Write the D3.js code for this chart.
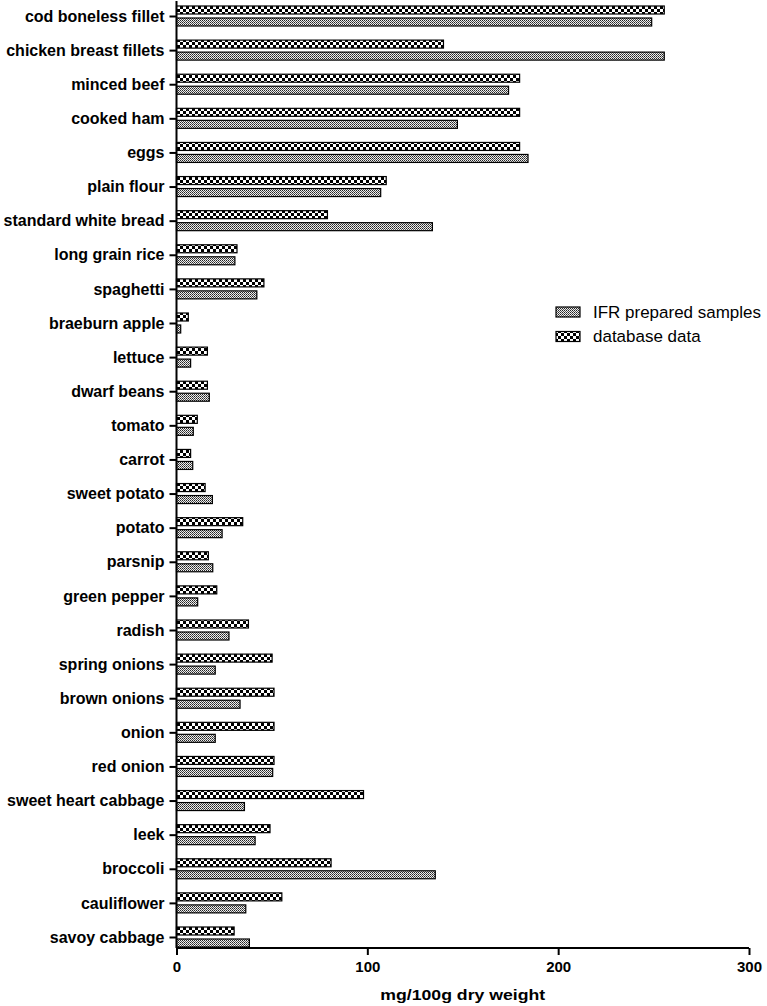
<!DOCTYPE html>
<html><head><meta charset="utf-8">
<script src="https://cdn.jsdelivr.net/npm/d3@7"></script>
<style>body{margin:0;background:#fff}svg{display:block}</style>
</head><body>
<script>
const categories = ["cod boneless fillet","chicken breast fillets","minced beef","cooked ham","eggs","plain flour","standard white bread","long grain rice","spaghetti","braeburn apple","lettuce","dwarf beans","tomato","carrot","sweet potato","potato","parsnip","green pepper","radish","spring onions","brown onions","onion","red onion","sweet heart cabbage","leek","broccoli","cauliflower","savoy cabbage"];
const ifrValues = [249,255.6,174,147.2,184.2,107,134.1,30.6,42.1,2.2,7.4,17.2,8.8,8.5,18.8,23.9,19,11.1,27.5,20.3,33.3,20.3,50.4,35.6,41.2,135.6,36.3,38.2];
const databaseValues = [255.6,139.9,179.8,179.8,179.8,109.9,79.1,31.7,45.8,6.2,16.2,16.2,10.9,7.4,15,34.7,16.7,21.1,37.7,50.1,51.1,51.1,51.1,98,49,81,55.2,30.2];
const xTicks = [0,100,200,300];
const seriesNames = ["IFR prepared samples","database data"];

const W=767,H=1006;
const svg=d3.select("body").append("svg").attr("width",W).attr("height",H);
const defs=svg.append("defs");
const pc=defs.append("pattern").attr("id","checker").attr("patternUnits","userSpaceOnUse").attr("width",6).attr("height",6).attr("x",0).attr("y",0);
pc.append("rect").attr("width",6).attr("height",6).attr("fill","#fff");
pc.append("rect").attr("width",3).attr("height",3).attr("fill","#000");
pc.append("rect").attr("x",3).attr("y",3).attr("width",3).attr("height",3).attr("fill","#000");
const pf=defs.append("pattern").attr("id","fine").attr("patternUnits","userSpaceOnUse").attr("width",2).attr("height",2);
pf.append("rect").attr("width",2).attr("height",2).attr("fill","#eee");
pf.append("rect").attr("width",1).attr("height",1).attr("fill","#222");
pf.append("rect").attr("x",1).attr("y",1).attr("width",1).attr("height",1).attr("fill","#555");

const x=d3.scaleLinear().domain([0,300]).range([176.5,749]);
const y=d3.scalePoint().domain(categories).range([16,937]);
const font="'Liberation Sans', Arial, sans-serif";

// bars
const g=svg.append("g");
g.selectAll(".db").data(categories).join("rect")
 .attr("x",x(0)).attr("y",d=>y(d)-10).attr("height",8)
 .attr("width",(d,i)=>x(databaseValues[i])-x(0))
 .attr("fill","url(#checker)").attr("stroke","#000").attr("stroke-width",1.2);
g.selectAll(".ifr").data(categories).join("rect")
 .attr("x",x(0)).attr("y",d=>y(d)+2).attr("height",8)
 .attr("width",(d,i)=>x(ifrValues[i])-x(0))
 .attr("fill","url(#fine)").attr("stroke","#000").attr("stroke-width",1.2);

// y axis
const ya=svg.append("g").attr("transform",`translate(${x(0)},0)`)
 .call(d3.axisLeft(y).tickSize(7).tickPadding(5));
ya.select(".domain").attr("d","M0,1V948").attr("stroke-width",2);
ya.selectAll(".tick line").attr("stroke-width",2);
ya.selectAll(".tick text").attr("font-family",font).attr("font-weight","bold").attr("font-size",16).attr("fill","#000");

// x axis
const xa=svg.append("g").attr("transform","translate(0,948)")
 .call(d3.axisBottom(x).tickValues(xTicks).tickSize(7).tickPadding(6));
xa.select(".domain").attr("d",`M${x(0)},0H${x(300)}`).attr("stroke-width",2);
xa.selectAll(".tick line").attr("stroke-width",2);
xa.selectAll(".tick text").attr("font-family",font).attr("font-weight","bold").attr("font-size",15).attr("fill","#000");

const tx=1.14, tcx=(x(0)+x(300))/2;
svg.append("text").attr("x",tcx/tx).attr("y",1000).attr("text-anchor","middle").attr("transform",`scale(${tx},1)`)
 .attr("font-family",font).attr("font-weight","bold").attr("font-size",15.5).text("mg/100g dry weight");

// legend
const leg=svg.append("g");
const fills=["url(#fine)","url(#checker)"];
const lx=1.03;
seriesNames.forEach((n,i)=>{
  const yy=307+i*24.5;
  leg.append("rect").attr("x",556).attr("y",yy).attr("width",24).attr("height",10).attr("fill",fills[i]).attr("stroke","#000").attr("stroke-width",1.2);
  leg.append("text").attr("x",593/lx).attr("y",yy+11).attr("transform",`scale(${lx},1)`).attr("font-family",font).attr("font-size",16.5).attr("fill","#000").text(n);
});
</script>
</body></html>
